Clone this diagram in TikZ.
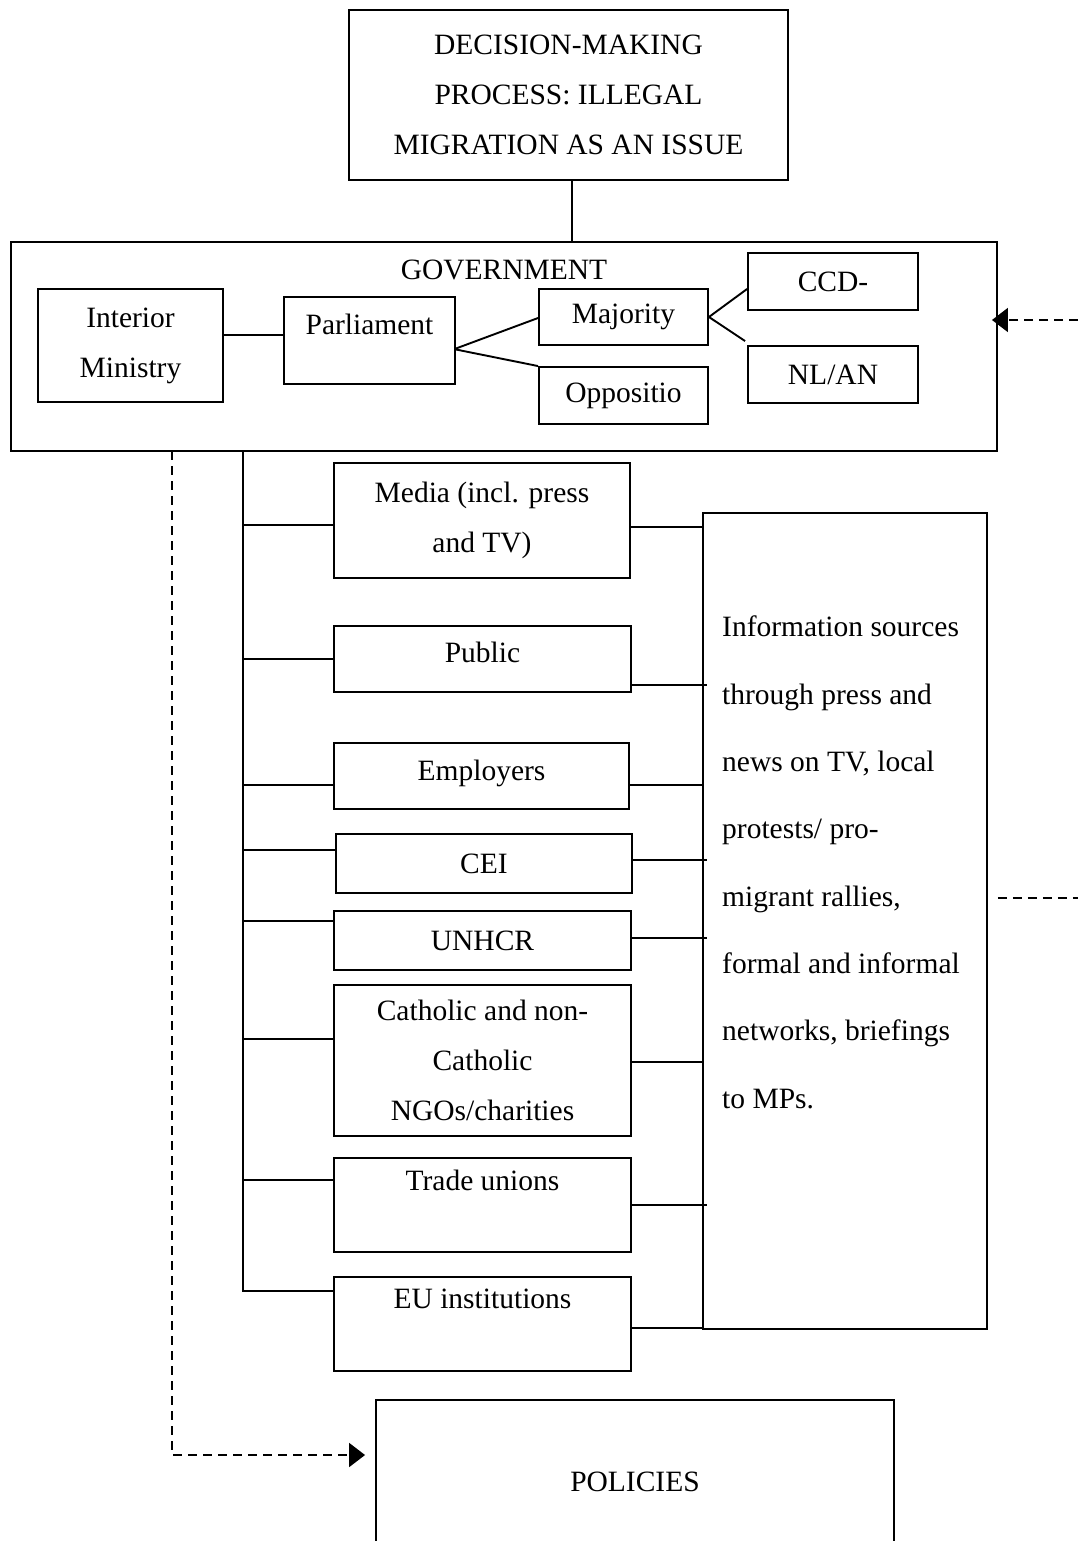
\documentclass[tikz,border=0pt]{standalone}
\usepackage{fontspec}
\setmainfont{Liberation Serif}
\usetikzlibrary{arrows.meta, positioning, calc}

\begin{document}
\begin{tikzpicture}[
x=1pt, y=-1pt,
block/.style={draw, line width=1.9pt, inner sep=0pt, align=center, font=\fontsize{29.5}{50}\selectfont},
link/.style={line width=1.9pt},
dashline/.style={line width=1.9pt, dash pattern=on 9pt off 6pt},
dasharrow/.style={dashline, -{Triangle[length=16pt, width=24pt]}}
]
\useasboundingbox (0,0) rectangle (1078,1541);

% top of the chart
\node[block, minimum width=439pt, minimum height=170pt] (top) at (568.5,95) {DECISION-MAKING\\PROCESS: ILLEGAL\\MIGRATION AS AN ISSUE};
\node[block, minimum width=986pt, minimum height=209pt] (gov) at (504,346.5) {};
\node[font=\fontsize{29.5}{50}\selectfont, inner sep=0pt] (govtitle) at (504,270) {GOVERNMENT};
\draw[link] ([xshift=3.5pt]top.south) -- ([xshift=3.5pt]top.south |- gov.north);

% inside government
\node[block, minimum width=185pt, minimum height=113pt] (interior) at (130.5,345.5) {Interior\\Ministry};
\node[block, minimum width=171pt, minimum height=87pt, text depth=32pt] (parl) at (369.5,340.5) {Parliament};
\node[block, minimum width=169pt, minimum height=56pt] (majority) at (623.5,317) {Majority};
\node[block, minimum width=169pt, minimum height=57pt] (opp) at (623.5,395.5) {Oppositio};
\node[block, minimum width=170pt, minimum height=57pt] (ccd) at (833,281.5) {CCD-};
\node[block, minimum width=170pt, minimum height=57pt] (nlan) at (833,374.5) {NL/AN};
\draw[link] (interior.east |- 0,335) -- (parl.west |- 0,335);
\draw[link] ($(parl.east)+(0,8)$) -- ($(majority.west)+(0,1)$);
\draw[link] ($(parl.east)+(0,9)$) -- (opp.north west);
\draw[link] (majority.east) -- ($(ccd.west)+(0,7.5)$);
\draw[link] (majority.east) -- ($(nlan.north west)+(-2,-4)$);

% actors
\node[block, minimum width=296pt, minimum height=115pt] (media) at (482,520.5) {Media (incl. press\\and TV)};
\node[block, minimum width=297pt, minimum height=66pt, text depth=13pt] (public) at (482.5,659) {Public};
\node[block, minimum width=295pt, minimum height=66pt, text depth=11pt] (employers) at (481.5,776) {Employers};
\node[block, minimum width=296pt, minimum height=59pt] (cei) at (484,863.5) {CEI};
\node[block, minimum width=297pt, minimum height=59pt] (unhcr) at (482.5,940.5) {UNHCR};
\node[block, minimum width=297pt, minimum height=151pt] (ngo) at (482.5,1060.5) {Catholic and non-\\Catholic\\NGOs/charities};
\node[block, minimum width=297pt, minimum height=94pt] (unions) at (482.5,1205) {Trade unions\\~};
\node[block, minimum width=297pt, minimum height=94pt] (eu) at (482.5,1324) {EU institutions\\~};

% information sources
\node[block, minimum width=284pt, minimum height=816pt] (info) at (845,921) {};
\node[font=\fontsize{29.5}{67.3}\selectfont, align=left, inner sep=0pt, anchor=north west] (infotext) at (722,616) {Information sources\\through press and\\news on TV, local\\protests/ pro-\\migrant rallies,\\formal and informal\\networks, briefings\\to MPs.};

\node[block, minimum width=518pt, minimum height=164pt] (policies) at (635,1482) {POLICIES};

% connectors
\coordinate (spinetop) at (243,451);
\coordinate (spinebot) at (243,1292);
\draw[link] (spinetop) -- (spinebot);
\foreach \n/\dl/\dr/\o in {media/4.5/6.5/0, public/0/26/5, employers/9/9/0, cei/-13.5/-3.5/5, unhcr/-19.5/-2.5/5, ngo/-21.5/1.5/0, unions/-25/0/5, eu/-33/4/0} {
  \draw[link] ($(\n.west)+(0,\dl)$) coordinate (l) -- (l -| spinetop);
  \draw[link] ($(\n.east)+(0,\dr)$) coordinate (r) -- ($(r -| info.west)+(\o,0)$);
}

% dashed links
\coordinate (feedin) at (1078,320);
\coordinate (feedout) at (1078,898);
\coordinate (govleft) at (172,451);
\draw[dasharrow] (feedin) -- ([xshift=-6pt]gov.east |- feedin);
\draw[dashline] (gov.east |- feedout) -- (feedout);
\draw[dasharrow] (govleft) |- ([xshift=-10pt, yshift=27pt]policies.west);
\end{tikzpicture}
\end{document}
